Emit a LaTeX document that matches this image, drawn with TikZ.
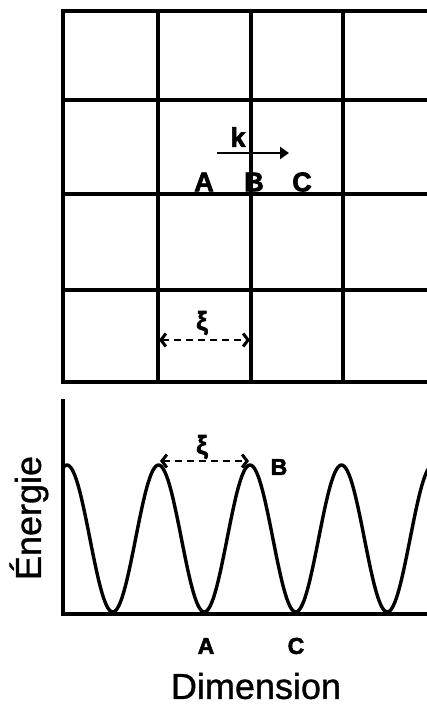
\documentclass[tikz,border=0pt]{standalone}
\usepackage{fontspec}
\setmainfont{Liberation Sans}
\newfontfamily\heavyfont{Liberation Sans Bold}[FakeBold=2.5]
\newfontfamily\medfont{Liberation Sans}[FakeBold=1]
\usetikzlibrary{arrows.meta}
\tikzset{
  gridline/.style={line width=3.8pt, line cap=rect},
  axisline/.style={line width=3.6pt},
  curveline/.style={line width=3.4pt, line join=round},
  xiarrow/.style={line width=2.8pt, dash pattern=on 7pt off 5pt, {Straight Barb[length=5pt,width=13pt,line width=3pt]}-{Straight Barb[length=5pt,width=13pt,line width=3pt]}},
  karrow/.style={line width=2.6pt, -{Triangle[length=9pt,width=12pt]}},
  lab/.style={font=\fontsize{27}{27}\heavyfont, inner sep=0pt},
  labs/.style={font=\fontsize{23}{23}\heavyfont, inner sep=0pt},
  xilab/.style={font=\fontsize{26}{26}\heavyfont, inner sep=0pt},
  big/.style={font=\fontsize{36}{36}\medfont, inner sep=0pt}
}
\begin{document}
\begin{tikzpicture}[x=1pt,y=-1pt]
\useasboundingbox (0,0) rectangle (427,706);
\begin{scope}
\clip (0,0) rectangle (427,706);
% grid
\foreach \x in {63,158,251,343} \draw[gridline] (\x,11) -- (\x,382);
\foreach \y in {11,100,194,290,382} \draw[gridline] (63,\y) -- (440,\y);
% axes
\coordinate (origin) at (63,614);
\coordinate (ytop) at (63,399);
\coordinate (xend) at (440,614);
\draw[axisline] (ytop) -- (origin) -- (xend);
% energy curve
\draw[curveline] plot[domain=63:432, samples=240, smooth] (\x,{538.5-73.5*cos(3.93443*(\x-67))});
\end{scope}
% k arrow
\coordinate (k0) at (217,153);
\coordinate (k1) at (289,153);
\draw[karrow] (k0) -- (k1);
\node[lab] (k) at (238,137) {k};
\node[lab] (A1) at (204,182) {A};
\node[lab] (B1) at (254,182) {B};
\node[lab] (C1) at (302,182) {C};
% xi top
\coordinate (xa) at (159,340);
\coordinate (xb) at (250,340);
\draw[xiarrow] (xa) -- (xb);
\node[xilab] (xi1) at (202,323) {ξ};
% xi bottom
\coordinate (xc) at (160,461);
\coordinate (xd) at (249,461);
\draw[xiarrow] (xc) -- (xd);
\node[xilab] (xi2) at (202,447) {ξ};
\node[labs] (B2) at (279,467) {B};
\node[labs] (A2) at (206,646) {A};
\node[labs] (C2) at (296,646) {C};
\node[big] (dim) at (256,686) {Dimension};
\node[big, rotate=90] (en) at (29,518) {Énergie};
\end{tikzpicture}
\end{document}
